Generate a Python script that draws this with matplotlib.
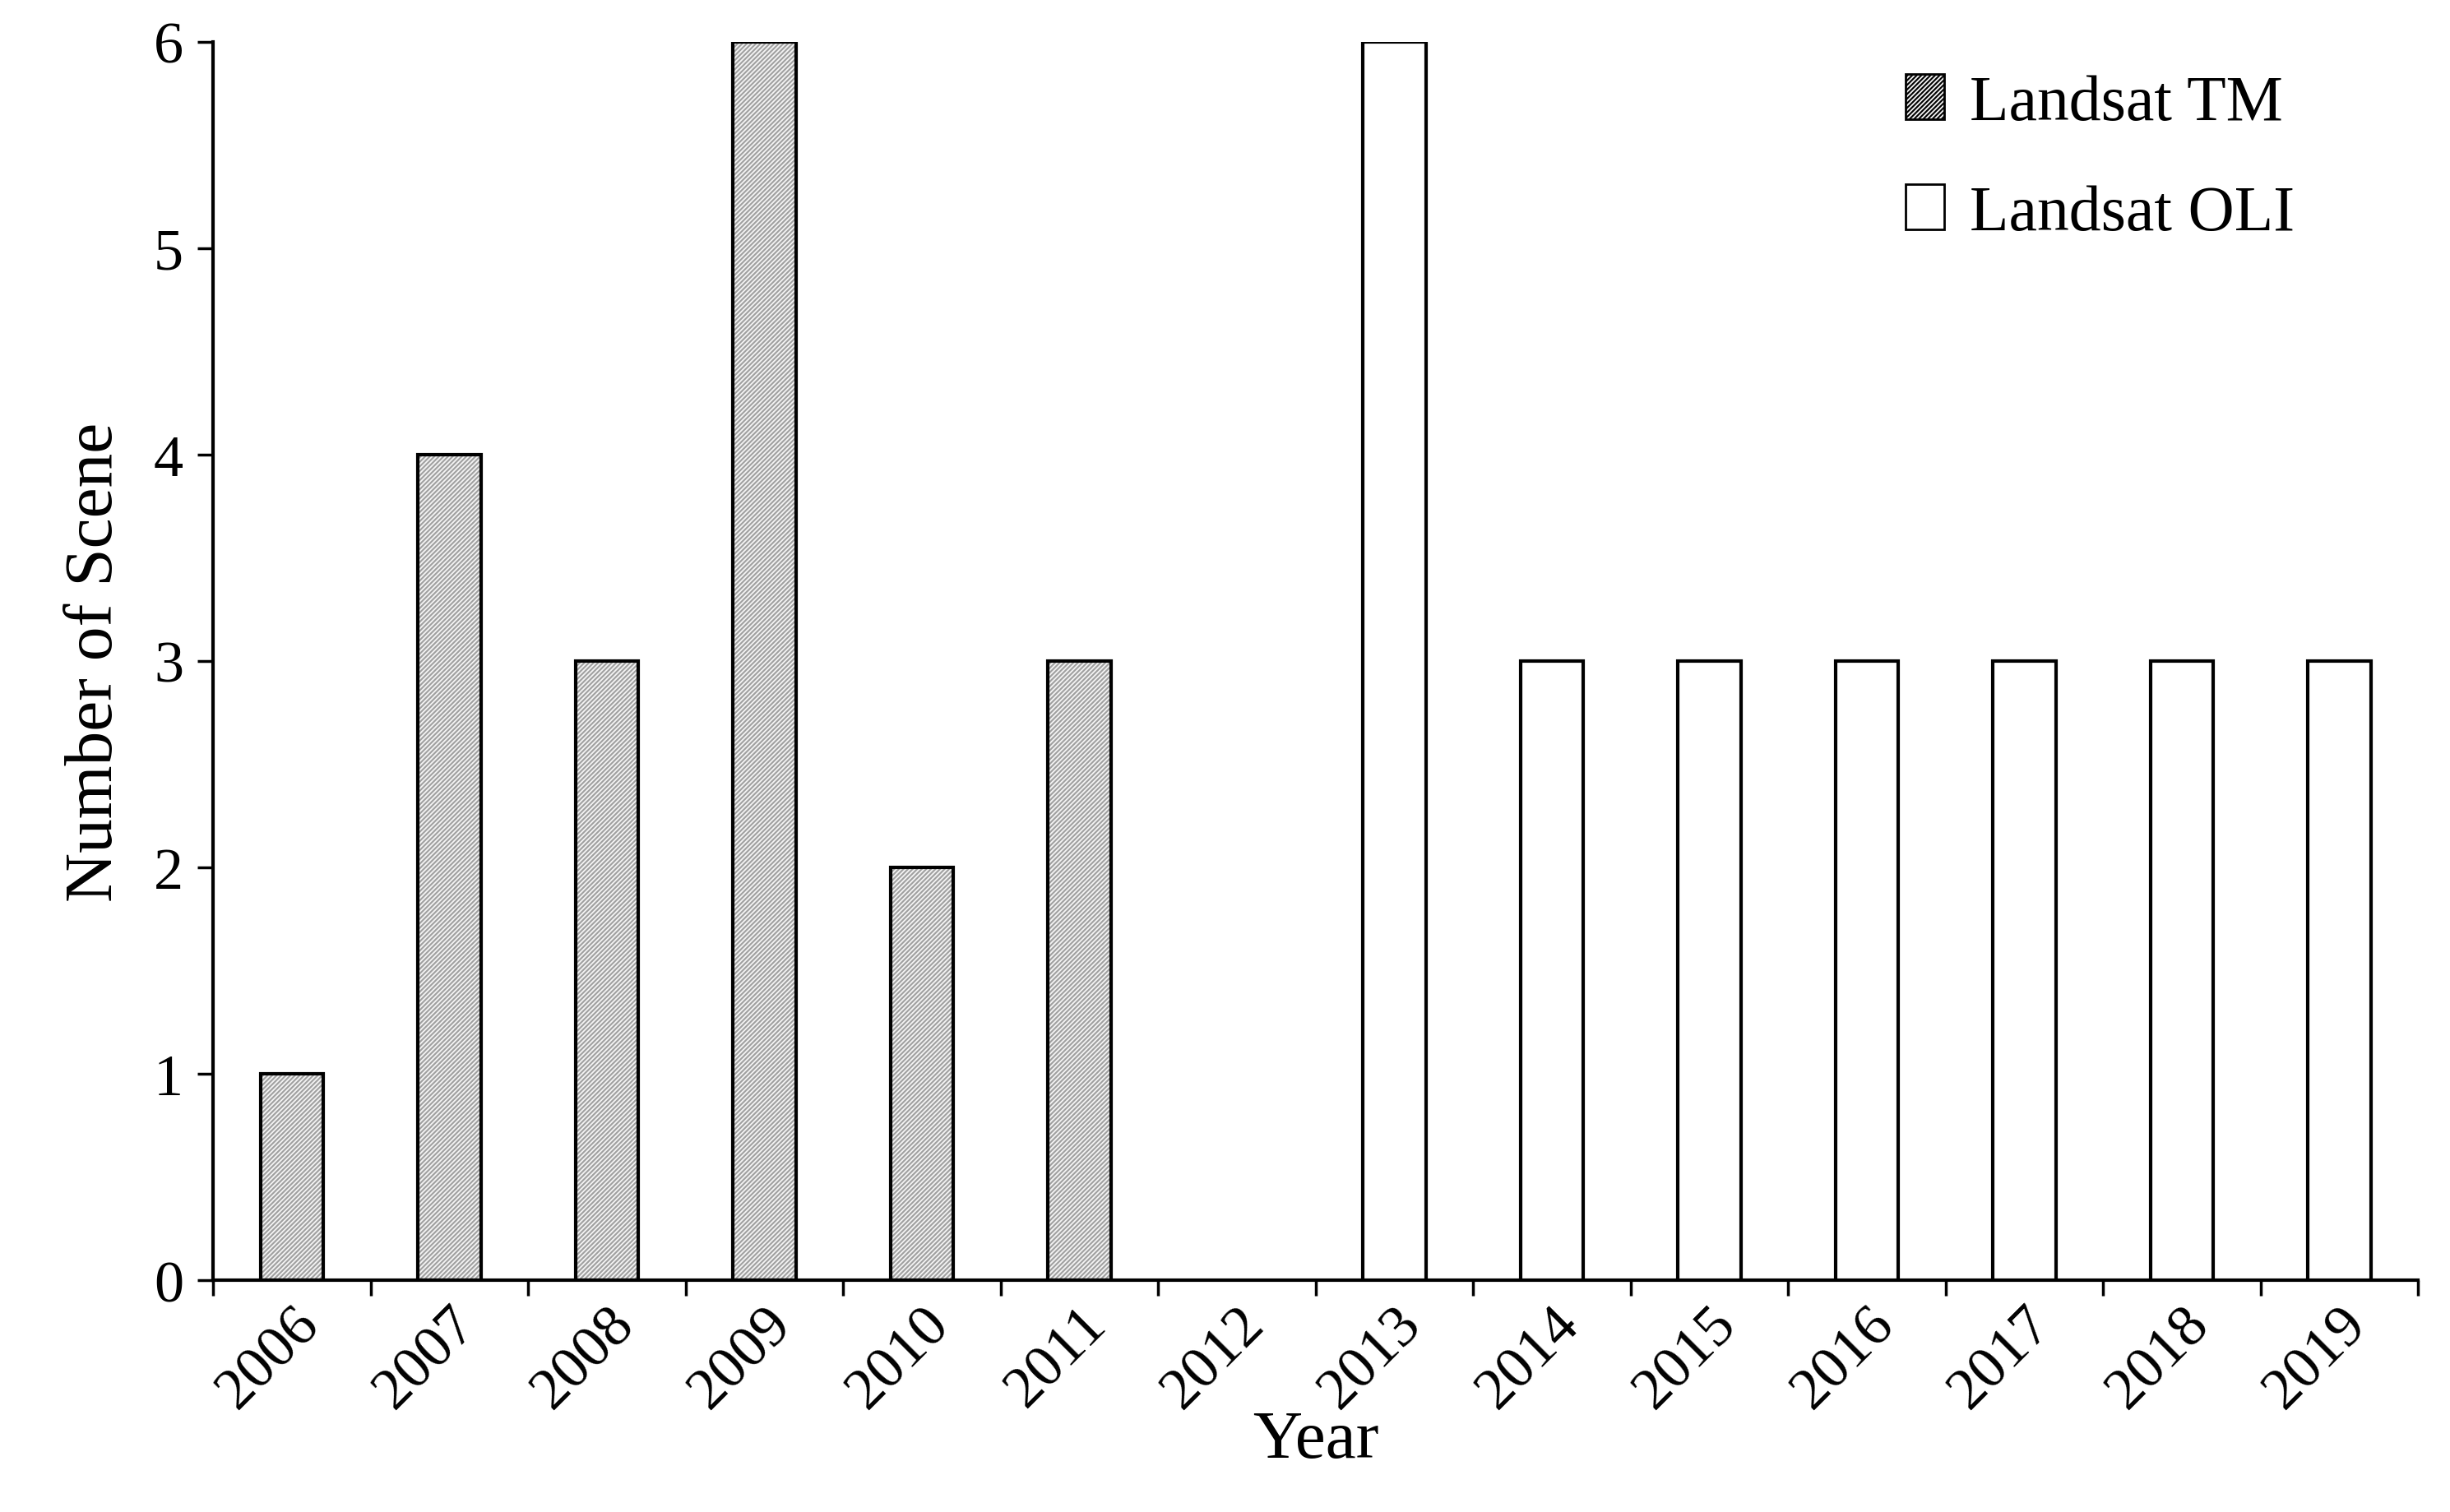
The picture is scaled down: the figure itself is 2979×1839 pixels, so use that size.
import matplotlib
matplotlib.use("Agg")
import matplotlib.pyplot as plt
from matplotlib.patches import Patch
import numpy as np

years = ["2006","2007","2008","2009","2010","2011","2012","2013","2014","2015","2016","2017","2018","2019"]
tm = [1,4,3,6,2,3,0,0,0,0,0,0,0,0]
oli = [0,0,0,0,0,0,0,6,3,3,3,3,3,3]

plt.rcParams['font.family'] = ['Liberation Serif', 'DejaVu Serif']
plt.rcParams['hatch.linewidth'] = 1.5
plt.rcParams['hatch.color'] = '#999999'
fig = plt.figure(figsize=(29.79, 18.40), dpi=100)
ax = fig.add_axes([0.087, 0.153, 0.9, 0.819])
x = np.arange(len(years))
w = 0.4
for i in x:
    if tm[i] > 0:
        ax.bar(i, tm[i], w, color='#f4f4f4', edgecolor='#a0a0a0', hatch='//////', linewidth=0, zorder=2)
        ax.bar(i, tm[i], w, fill=False, edgecolor='black', linewidth=3, zorder=3)
    if oli[i] > 0:
        ax.bar(i, oli[i], w, color='white', edgecolor='black', linewidth=3, zorder=3)

ax.set_xlim(-0.5, len(years)-0.5)
ax.set_ylim(0, 6)
ax.set_yticks(range(7))
ax.set_xticks(x)
ax.set_xticklabels(years, rotation=45, ha='right', rotation_mode='anchor')
ax.set_xticks(np.arange(-0.5, len(years)), minor=True)
ax.tick_params(axis='x', which='major', length=0, labelsize=52, pad=14)
ax.tick_params(axis='x', which='minor', length=14, width=2.5, direction='out')
ax.tick_params(axis='y', labelsize=52, length=14, width=2.5, direction='out', pad=12)
for s in ['top', 'right']:
    ax.spines[s].set_visible(False)
for s in ['left', 'bottom']:
    ax.spines[s].set_linewidth(3)
ax.set_xlabel('Year', fontsize=60, labelpad=-8)
ax.set_ylabel('Number of Scene', fontsize=60, labelpad=24)

handles = [Patch(facecolor='#f4f4f4', edgecolor='black', hatch='//////', linewidth=2),
           Patch(facecolor='white', edgecolor='black', linewidth=2)]
ax.legend(handles, ['Landsat TM', 'Landsat OLI'], loc='upper right', frameon=False,
          fontsize=56, handlelength=0.6, handleheight=0.7, handletextpad=0.4,
          labelspacing=0.8, bbox_to_anchor=(0.97, 1.02))
fig.savefig('out.png', dpi=100)
